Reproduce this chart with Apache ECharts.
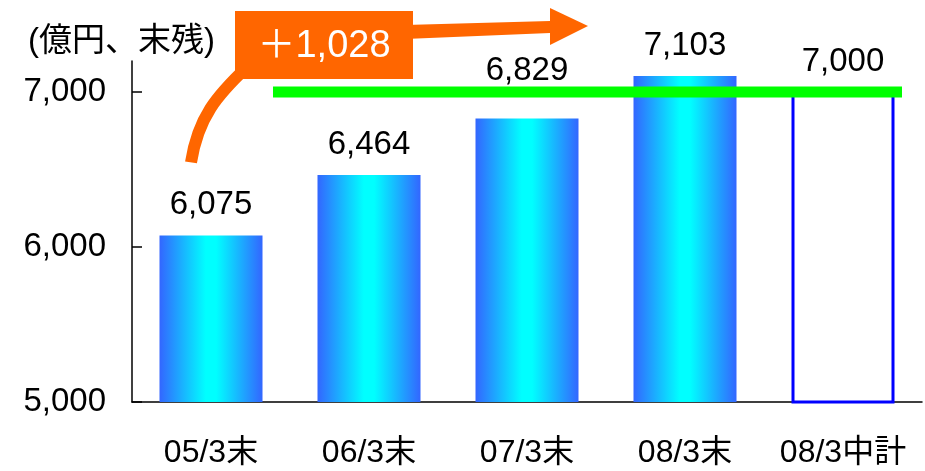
<!DOCTYPE html>
<html>
<head>
    <meta charset="UTF-8">
    <title>残高推移</title>
    <script src="https://cdn.jsdelivr.net/npm/echarts@6/dist/echarts.min.js"></script>
    <style>
        body { margin: 0; background: #fff; }
    </style>
</head>
<body>
<div id="main" style="width:925px; height:471px;"></div>
<script>
    // data
    var categories = ['05/3末', '06/3末', '07/3末', '08/3末', '08/3中計'];
    var balances = [6075, 6464, 6829, 7103, 7000];
    var planIndex = 4;          // 中計 (target), drawn hollow
    var targetValue = 7000;
    var yTicks = [5000, 6000, 7000];
    var liftedLabel = 2;        // label raised so it clears the green line

    var font = '"Liberation Sans", Arial, "Noto Sans CJK JP", sans-serif';

    function fmt(v) {
        return String(v).replace(/\B(?=(\d{3})+(?!\d))/g, ',');
    }

    var barFill = new echarts.graphic.LinearGradient(0, 0, 1, 0, [
        {offset: 0, color: '#3366ff'},
        {offset: 0.45, color: '#00ffff'},
        {offset: 0.55, color: '#00ffff'},
        {offset: 1, color: '#3366ff'}
    ]);

    var barData = balances.map(function (v, i) {
        var item = {value: v};
        if (i === planIndex) {
            item.itemStyle = {color: '#ffffff', borderColor: '#0000ff', borderWidth: 3};
        }
        if (i === liftedLabel) {
            item.label = {offset: [0, -17]};
        }
        return item;
    });

    var chart = echarts.init(document.getElementById('main'), null, {renderer: 'canvas'});
    chart.setOption({
        animation: false,
        title: {
            text: '(億円、末残)',
            left: 23,
            top: 20,
            textStyle: {fontFamily: font, fontSize: 33, fontWeight: 'normal', color: '#000'}
        },
        grid: {left: 132, right: 3, top: 61, bottom: 69},
        xAxis: {
            type: 'category',
            data: categories,
            axisLine: {lineStyle: {color: '#000', width: 1.5}},
            axisTick: {inside: true, length: 10, interval: 0, lineStyle: {color: '#000', width: 1.5}},
            axisLabel: {color: '#000', fontSize: 32, fontFamily: font, margin: 35, interval: 0}
        },
        yAxis: {
            type: 'value',
            min: 5000,
            max: 7200,
            interval: 1000,
            splitLine: {show: false},
            axisLine: {show: true, lineStyle: {color: '#000', width: 1.5}},
            axisTick: {show: true, inside: true, length: 10, customValues: yTicks, lineStyle: {color: '#000', width: 1.5}},
            axisLabel: {
                color: '#000', fontSize: 33, fontFamily: font, margin: 26,
                customValues: yTicks,
                formatter: function (v) { return fmt(v); }
            }
        },
        series: [{
            type: 'bar',
            data: barData,
            barWidth: 103,
            itemStyle: {color: barFill},
            label: {
                show: true,
                position: 'top',
                distance: 14,
                color: '#000',
                fontSize: 33,
                fontFamily: font,
                formatter: function (p) { return fmt(p.value); }
            }
        }]
    });

    // annotations placed from the chart's own scales
    function px(i, v) { return chart.convertToPixel({seriesIndex: 0}, [i, v]); }

    var first = px(0, balances[0]);
    var last = px(3, balances[3]);
    var tgtL = px(1, targetValue);
    var tgtR = px(planIndex, targetValue);
    var growth = balances[3] - balances[0];

    var boxX = first[0] + 24, boxY = 11, boxW = 178, boxH = 68;
    var tipX = last[0] - 97;

    chart.setOption({
        graphic: [
            {
                type: 'line', z: 100,
                shape: {x1: tgtL[0] - 96, y1: tgtL[1], x2: tgtR[0] + 59, y2: tgtR[1]},
                style: {stroke: '#00ff00', lineWidth: 11}
            },
            {
                type: 'bezierCurve', z: 100,
                shape: {
                    x1: first[0] - 20, y1: first[1] - 73,
                    cpx1: first[0] - 13, cpy1: first[1] - 118,
                    cpx2: first[0] + 6, cpy2: first[1] - 140,
                    x2: boxX + 12, y2: boxY + boxH - 12
                },
                style: {stroke: '#ff6600', lineWidth: 12, fill: null}
            },
            {
                type: 'polygon', z: 100,
                shape: {points: [[boxX + 170, 25], [tipX - 38, 21], [tipX - 38, 33], [boxX + 170, 39]]},
                style: {fill: '#ff6600'}
            },
            {
                type: 'polygon', z: 100,
                shape: {points: [[tipX - 38, 8], [tipX, 26], [tipX - 38, 45]]},
                style: {fill: '#ff6600'}
            },
            {
                type: 'rect', z: 101,
                shape: {x: boxX, y: boxY, width: boxW, height: boxH},
                style: {fill: '#ff6600'}
            },
            {
                type: 'text', z: 102,
                x: boxX + boxW / 2, y: boxY + boxH / 2 + 2,
                style: {
                    text: '＋' + fmt(growth),
                    fill: '#fff',
                    font: '38px ' + font,
                    align: 'center',
                    verticalAlign: 'middle'
                }
            }
        ]
    });
</script>
</body>
</html>
